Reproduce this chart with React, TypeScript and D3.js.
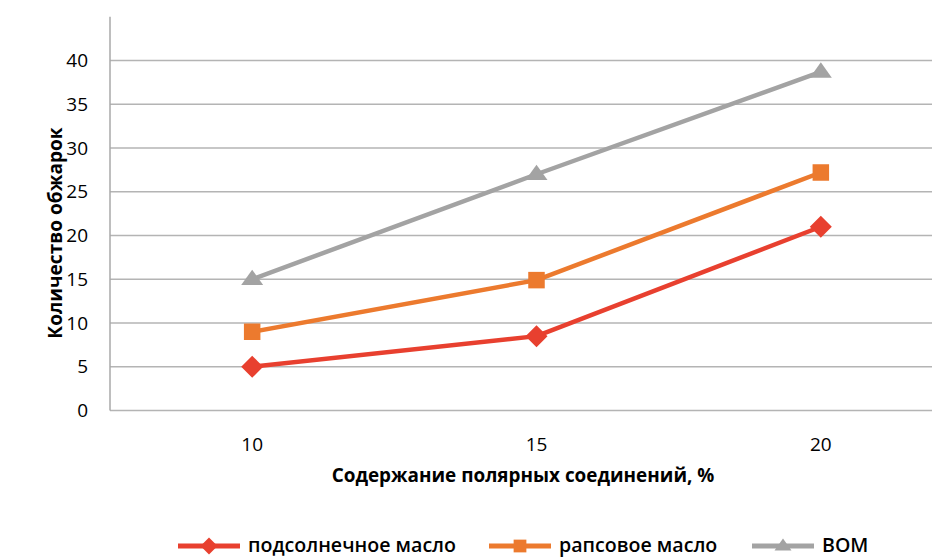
import React from "react";
import * as d3 from "d3";

const categories = ["10", "15", "20"];
const sunflower = [5, 8.5, 21];
const rapeseed = [9, 14.9, 27.2];
const vom = [15, 27, 38.7];
const yTicks = [0, 5, 10, 15, 20, 25, 30, 35, 40];
const seriesNames = ["подсолнечное масло", "рапсовое масло", "ВОМ"];
const xTitle = "Содержание полярных соединений, %";
const yTitle = "Количество обжарок";

const W = 932;
const H = 558;
const colors = ["#E8402F", "#EC7A2E", "#A3A3A3"];
const shapes = ["diamond", "square", "triangle"];
const FONT = "'Open Sans', 'Segoe UI', sans-serif";

function Marker({ shape, x, y, s, color }: { shape: string; x: number; y: number; s: number; color: string }) {
  if (shape === "diamond") {
    const r = s / 2;
    return <path d={`M${x},${y - r}L${x + r},${y}L${x},${y + r}L${x - r},${y}Z`} fill={color} />;
  }
  if (shape === "square") {
    const r = (s * 0.75) / 2;
    return <rect x={x - r} y={y - r} width={2 * r} height={2 * r} fill={color} />;
  }
  const w = s;
  const h = s * 0.7;
  return <path d={`M${x},${y - h * 0.62}L${x + w / 2},${y + h * 0.38}L${x - w / 2},${y + h * 0.38}Z`} fill={color} />;
}

export default function App() {
  const x = d3.scalePoint<string>().domain(categories).range([110, 963]).padding(0.5);
  const y = d3.scaleLinear().domain([0, 45]).range([410.5, 16.75]);
  const data = [sunflower, rapeseed, vom];
  const line = d3
    .line<number>()
    .x((_, i) => x(categories[i]) as number)
    .y((d) => y(d));

  const legendX = [178, 489, 752];
  const legY = 545;

  return (
    <svg width={W} height={H} style={{ position: "absolute", left: 0, top: 0, background: "#fff" }} fontFamily={FONT}>
      <rect x={0} y={0} width={W} height={H} fill="#fff" />
      {yTicks.map((t) => (
        <line key={t} x1={110} x2={963} y1={y(t)} y2={y(t)} stroke="#B4B4B4" strokeWidth={1.5} />
      ))}
      <line x1={110} x2={110} y1={y(45)} y2={y(0)} stroke="#A8A8A8" strokeWidth={1.5} />
      {yTicks.map((t) => (
        <text key={t} x={88} y={y(t)} dy="0.35em" textAnchor="end" fontSize={19} fill="#000">
          {t}
        </text>
      ))}
      {categories.map((c) => (
        <text key={c} x={x(c)} y={444} dy="0.35em" textAnchor="middle" fontSize={19} fill="#000">
          {c}
        </text>
      ))}
      <text x={523} y={475} dy="0.35em" textAnchor="middle" fontSize={18.9} fontWeight={700} fill="#000">
        {xTitle}
      </text>
      <text
        transform={`translate(55.5,233) rotate(-90)`}
        dy="0.35em"
        textAnchor="middle"
        fontSize={19.1}
        fontWeight={700}
        fill="#000"
      >
        {yTitle}
      </text>
      {data.map((d, si) => (
        <g key={si}>
          <path d={line(d) || ""} fill="none" stroke={colors[si]} strokeWidth={4.5} strokeLinejoin="round" />
          {d.map((v, i) => (
            <Marker key={i} shape={shapes[si]} x={x(categories[i]) as number} y={y(v)} s={22} color={colors[si]} />
          ))}
        </g>
      ))}
      {seriesNames.map((n, si) => (
        <g key={n}>
          <line x1={legendX[si]} x2={legendX[si] + 62} y1={legY + 1} y2={legY + 1} stroke={colors[si]} strokeWidth={5} />
          <Marker shape={shapes[si]} x={legendX[si] + 31} y={legY + 1} s={17} color={colors[si]} />
          <text x={legendX[si] + 70} y={legY} dy="0.35em" fontSize={19.6} fontWeight={600} fill="#000">
            {n}
          </text>
        </g>
      ))}
    </svg>
  );
}
